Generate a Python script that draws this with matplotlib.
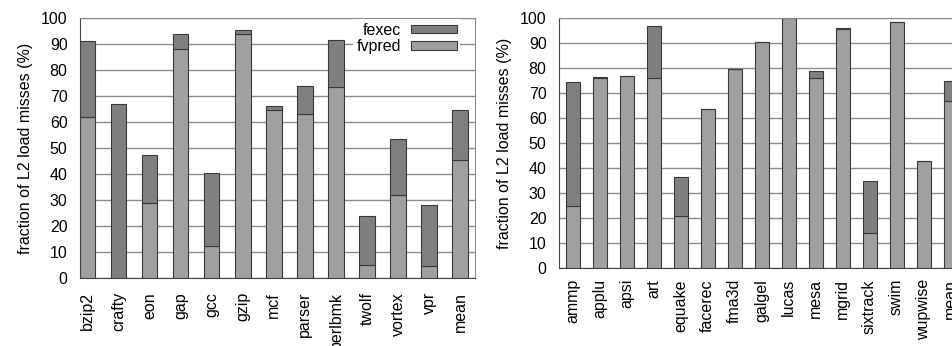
import matplotlib.pyplot as plt
import numpy as np

plt.rcParams['font.family'] = ['Liberation Sans', 'DejaVu Sans']
plt.rcParams['font.size'] = 11.5

# integer benchmarks (left)
int_names = ['bzip2', 'crafty', 'eon', 'gap', 'gcc', 'gzip', 'mcf', 'parser',
             'perlbmk', 'twolf', 'vortex', 'vpr', 'mean']
int_fvpred = [62, 0, 29, 88, 12.5, 94, 64.5, 63, 73.5, 5, 32, 4.5, 45.5]
int_total = [91, 67, 47.5, 94, 40.5, 95.5, 66, 74, 91.5, 24, 53.5, 28, 64.5]

# floating point benchmarks (right)
fp_names = ['ammp', 'applu', 'apsi', 'art', 'equake', 'facerec', 'fma3d', 'galgel',
            'lucas', 'mesa', 'mgrid', 'sixtrack', 'swim', 'wupwise', 'mean']
fp_fvpred = [25, 76, 76.7, 76, 21, 63.5, 79.5, 90.3, 100, 76, 95.7, 14, 98.5, 43, 67]
fp_total = [74.5, 76.3, 77, 97, 36.5, 63.5, 79.7, 90.3, 100, 78.7, 96, 35, 98.5, 43, 74.8]

c_exec = '#7f7f7f'
c_vpred = '#a0a0a0'
c_edge = '#3a3a3a'

fig = plt.figure(figsize=(9.53, 3.46), dpi=100)
ax1 = fig.add_axes([0.084, 0.1965, 0.4145, 0.7514])
ax2 = fig.add_axes([0.5866, 0.2254, 0.425, 0.7225])


def draw(ax, names, fvpred, total, width, xlim, xpad):
    x = np.arange(len(names))
    fvpred = np.array(fvpred)
    fexec = np.array(total) - fvpred
    ax.bar(x, fvpred, width, color=c_vpred, edgecolor=c_edge, linewidth=0.8,
           label='fvpred', zorder=2)
    ax.bar(x, fexec, width, bottom=fvpred, color=c_exec, edgecolor=c_edge,
           linewidth=0.8, label='fexec', zorder=2)
    ax.set_ylim(0, 100)
    ax.set_xlim(*xlim)
    ax.set_yticks(range(0, 101, 10))
    ax.set_xticks(x)
    ax.set_xticklabels(names, rotation=90)
    ax.yaxis.grid(True, color='#8c8c8c', linewidth=1.0, zorder=0)
    ax.set_axisbelow(True)
    ax.tick_params(axis='y', length=0, pad=9)
    ax.tick_params(axis='x', length=0, pad=xpad)
    for s in ax.spines.values():
        s.set_color('#8c8c8c')
    ax.spines['left'].set_color('#444444')
    ax.spines['bottom'].set_color('#444444')
    ax.set_ylabel('fraction of L2 load misses (%)', labelpad=6)


draw(ax1, int_names, int_fvpred, int_total, 0.5, (-0.24, 12.48), 10)
draw(ax2, fp_names, fp_fvpred, fp_total, 0.52, (-0.5, 14.5), 8)

h, l = ax1.get_legend_handles_labels()
leg = ax1.legend(h[::-1], l[::-1], loc='upper right', bbox_to_anchor=(0.962, 0.995),
                 markerfirst=False, handlelength=2.9, handleheight=0.45,
                 borderaxespad=0, labelspacing=0.1, handletextpad=0.6,
                 fancybox=False, framealpha=1, facecolor='white',
                 edgecolor='none', borderpad=0.2)
leg.set_zorder(5)

fig.savefig('out.png', dpi=100)
